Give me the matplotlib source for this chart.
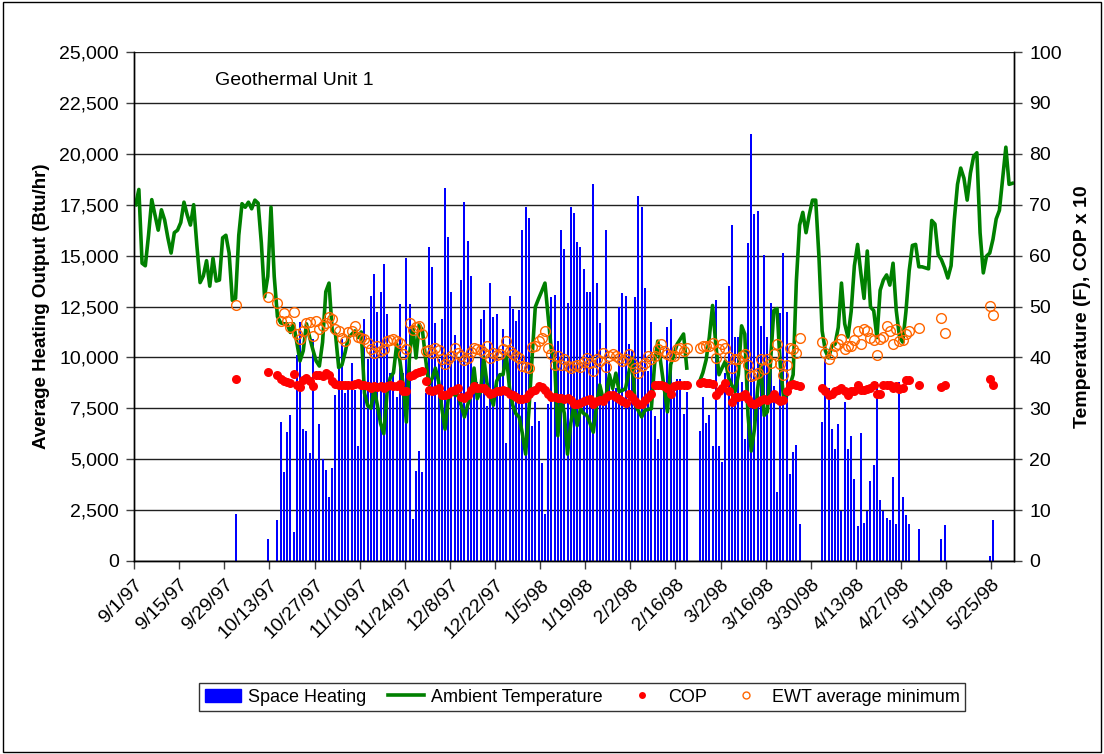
import numpy as np
import matplotlib
matplotlib.use("Agg")
import matplotlib.pyplot as plt
from matplotlib.patches import Rectangle

plt.rcParams['font.family'] = ['Liberation Sans', 'DejaVu Sans']

nan = np.nan

# one value per day, 9/1/97 .. 5/31/98 (273 days)
# Space heating, Btu/hr (nan = no data)
heating = ([nan] * 31 + [2330] + [nan] * 9 + [1080, nan, nan,
    2000, 6820, 4360, 6320, 7150, 1410, 10140, 11720, 6490, 6400,
    5320, 10890, 4990, 6735, 4990, 4460, 3160, 4570, 8150, 9980,
    10890, 8230, 8650, 9730, 8400, 5650, 8650, 11890, 9900, 13020,
    14100, 12220, 13220, 14600, 12140, 9230, 9230, 8070, 12640, 9230,
    14880, 12640, 2080, 4400, 5400, 4360, 8230, 15430, 14430, 11670,
    9900, 11890, 18330, 15920, 13200, 11090, 9900, 13800, 17630, 15720,
    14000, 8400, 8800, 11890, 12340, 7620, 13670, 11970, 12140, 9230,
    11390, 5790, 13020, 12390, 11810, 12340, 16260, 17410, 16850, 6620,
    7820, 6870, 4820, 2330, 7730, 12970, 13050, 10810, 16260, 15330,
    12670, 17410, 17100, 15670, 15430, 14350, 13220, 13220, 18540, 13640,
    11670, 8150, 16260, 9810, 8650, 8480, 12470, 13140, 13020, 10680,
    10310, 12970, 17930, 17410, 13420, 9310, 11760, 7120, 5990, 7480,
    8480, 11470, 11890, 8650, 8930, 8930, 7230, 8310, nan, nan,
    nan, 6400, 8070, 6770, 7150, 5650, 12800, 5650, 4850, 9230,
    13500, 16500, 10980, 10980, 8810, 5990, 15630, 20990, 17050, 17180,
    11560, 15020, 10980, 12670, 8600, 3380, 12170, 15130, 12220, 4290,
    5350, 5690, 1830] + [nan] * 6 + [6820, 9900, 8480, 6490, 5490,
    6740, 2460, 7820, 5520, 6120, 4040, 1700, 6290, 1880, 2460,
    3910, 4690, 8800, 2990, 2460, 2130, 2000, 4110, 1830, 8810,
    3160, 2250, 1830, nan, nan, 1580] + [nan] * 6 + [1080, 1750]
    + [nan] * 13 + [250, 2000] + [nan] * 6)

# Ambient temperature, F
ambient = [70, 73, 58.5, 58, 64, 71, 68, 65, 69, 67,
    63.5, 60.5, 64.5, 65, 66.5, 70.5, 68, 66, 70, 62,
    54.7, 56, 59, 54, 59.5, 55, 55.2, 63.5, 64, 60.5,
    51.2, 51.6, 64, 70.2, 69.5, 70.5, 69.2, 70.9, 70.3, 62.5,
    51.9, 55.9, 69.5, 55.9, 48, 46.8, 46.6, 46.6, 44.9, 46.6,
    43, 39.3, 41.3, 46.6, 43.9, 41.5, 39.3, 38.3, 43, 52.9,
    54.6, 45.2, 44.6, 38, 38.5, 41, 43.9, 44.5, 45.2, 43.9,
    45, 33, 30.5, 30, 33.9, 30.6, 27, 25, 33, 36,
    37, 42.6, 39.3, 34.6, 27.3, 40.6, 45.9, 39.9, 46.5, 45.2,
    39.5, 34.6, 35.9, 37.9, 35.3, 30, 25.9, 31.9, 33.3, 32.6,
    32.6, 30.6, 28.3, 30.6, 32.6, 37.9, 31.9, 33.3, 39.9, 35,
    32.6, 30.6, 35.3, 36.6, 36.6, 40.6, 33.9, 30.6, 28.9, 28.3,
    25, 21, 29.3, 40, 49.9, 51.5, 53, 54.6, 47.9, 41.3,
    39.3, 24.6, 31.9, 29, 21, 27, 30.6, 26.6, 29.9, 29,
    28.6, 27, 25.3, 30.6, 34.6, 31.9, 32.6, 36.6, 33.9, 36.9,
    33.3, 33.5, 33.9, 37, 39.9, 30.6, 29.5, 28.3, 29.6, 29.8,
    29.9, 38.6, 43.2, 38.6, 33.9, 29.3, 38.6, 40.5, 42.6, 43.6,
    44.6, 37.9, nan, nan, nan, 35.3, 37, 39.5, 44, 50.2,
    42.6, 36.6, 38, 39.3, 35.9, 34.5, 33.3, 36.6, 46.2, 44.6,
    28.6, 21.6, 25.9, 33.9, 38.6, 28.6, 29.3, 39.3, 49.2, 49.6,
    38.6, 32.3, 32.5, 34.5, 36.6, 55, 66, 68.5, 64.5, 68,
    70.9, 70.9, 59.9, 45.2, 41.3, 39.9, 42.2, 42.6, 45.9, 54.6,
    46.6, 44, 49, 58, 62.2, 56.6, 51.6, 60.9, 49.9, 49.2,
    43.9, 53.2, 55.2, 56.2, 54.2, 58.5, 49.2, 44, 43, 49,
    57, 62, 62.2, 57.8, 57.8, 57.6, 57.4, 66.9, 66.2, 60.2,
    59.2, 57.6, 55.6, 58, 67, 74, 77.2, 75.2, 70.9, 76.2,
    79.5, 80.2, 64.5, 56.6, 59.9, 60.5, 63.2, 67.2, 68.9, 75.2,
    81.3, 74, 74.2]

# COP
cop = ([nan] * 31 + [3.57] + [nan] * 9 + [3.71, nan, nan,
    3.66, 3.57, 3.53, 3.51, 3.49, 3.67, 3.46, 3.41, 3.56, 3.59,
    3.53, 3.43, 3.65, 3.66, 3.63, 3.69, 3.66, 3.53, 3.47, 3.46,
    3.46, 3.45, 3.46, 3.46, 3.47, 3.49, 3.46, 3.45, 3.43, 3.39,
    3.43, 3.41, 3.43, 3.39, 3.43, 3.45, 3.43, 3.43, 3.47, 3.33,
    3.33, 3.63, 3.66, 3.69, 3.72, 3.74, 3.53, 3.36, 3.33, 3.36,
    3.39, 3.26, 3.26, 3.29, 3.33, 3.36, 3.39, 3.23, 3.21, 3.27,
    3.36, 3.43, 3.39, 3.39, 3.39, 3.33, 3.29, 3.31, 3.33, 3.34,
    3.36, 3.34, 3.29, 3.26, 3.23, 3.19, 3.19, 3.21, 3.29, 3.33,
    3.36, 3.43, 3.41, 3.36, 3.29, 3.23, 3.23, 3.21, 3.21, 3.19,
    3.21, 3.16, 3.09, 3.09, 3.11, 3.14, 3.16, 3.19, 3.09, 3.14,
    3.16, 3.14, 3.23, 3.26, 3.26, 3.23, 3.19, 3.14, 3.11, 3.29,
    3.23, 3.14, 3.09, 3.09, 3.16, 3.23, 3.29, 3.46, 3.46, 3.45,
    3.43, 3.39, 3.29, 3.43, 3.45, 3.45, 3.45, 3.45, nan, nan,
    nan, 3.49, 3.51, 3.49, 3.49, 3.47, 3.26, 3.33, 3.39, 3.49,
    3.33, 3.13, 3.23, 3.23, 3.25, 3.29, 3.19, 3.11, 3.09, 3.13,
    3.16, 3.18, 3.16, 3.21, 3.29, 3.19, 3.14, 3.16, 3.33, 3.46,
    3.47, 3.45, 3.43] + [nan] * 6 + [3.39, 3.33, 3.26, 3.29, 3.33,
    3.36, 3.39, 3.33, 3.27, 3.33, 3.33, 3.45, 3.36, 3.36, 3.38,
    3.39, 3.45, 3.29, 3.29, 3.45, 3.45, 3.45, 3.39, 3.43, 3.38,
    3.39, 3.56, 3.56, nan, nan, 3.46] + [nan] * 6 + [3.41, 3.46]
    + [nan] * 13 + [3.57, 3.46] + [nan] * 6)

# EWT average minimum, F
ewt = ([nan] * 31 + [50.2] + [nan] * 9 + [51.9, nan, nan,
    50.6, 47.2, 48.7, 47.2, 45.9, 48.9, 44.6, 43.6, 45.2, 46.7,
    46.9, 44.2, 47.2, 45.6, 46.2, 46.7, 47.9, 47.6, 45.6, 45.1,
    43.9, 43.2, 44.9, 45.2, 46.2, 44.0, 43.9, 43.6, 42.9, 41.6,
    40.9, 42.2, 41.3, 41.6, 43.2, 43.4, 43.6, 43.2, 42.9, 40.6,
    41.6, 46.7, 45.4, 45.9, 46.2, 44.6, 41.3, 41.4, 40.9, 41.9,
    41.4, 39.6, 38.7, 39.6, 40.3, 41.8, 40.9, 40.3, 39.4, 39.9,
    41.0, 41.9, 41.6, 41.4, 40.9, 42.2, 39.9, 40.9, 40.5, 40.7,
    41.6, 43.2, 41.3, 40.6, 40.3, 39.9, 38.3, 38.1, 37.9, 42.0,
    42.2, 43.2, 43.9, 45.2, 41.9, 40.6, 38.6, 40.3, 38.6, 39.6,
    38.3, 37.9, 38.3, 38.5, 38.1, 39.0, 39.9, 38.9, 37.4, 39.6,
    39.3, 40.9, 38.1, 40.3, 40.6, 40.3, 39.9, 39.3, 39.6, 40.6,
    38.9, 37.9, 36.9, 38.3, 38.9, 40.3, 39.6, 40.3, 41.6, 42.6,
    41.3, 40.6, 40.3, 40.3, 41.6, 41.9, 41.3, 41.9, nan, nan,
    nan, 41.9, 42.2, 42.2, 42.2, 42.9, 39.9, 41.6, 42.6, 41.9,
    40.1, 37.9, 39.6, 39.6, 40.3, 40.6, 38.6, 36.3, 36.6, 36.9,
    39.6, 37.8, 39.6, 38.9, 40.6, 42.7, 38.7, 36.6, 38.6, 41.8,
    41.6, 40.9, 43.8] + [nan] * 6 + [43.1, 40.9, 39.6, 40.6, 42.2,
    42.6, 43.6, 41.6, 42.2, 42.2, 43.4, 45.2, 42.6, 45.6, 45.2,
    43.9, 43.4, 40.4, 43.6, 44.0, 46.2, 45.1, 42.7, 45.6, 43.2,
    43.4, 44.6, 45.2, nan, nan, 45.8] + [nan] * 6 + [47.7, 44.7]
    + [nan] * 13 + [50.1, 48.4] + [nan] * 6)

tick_days = list(range(0, 267, 14))
tick_labels = ['9/1/97', '9/15/97', '9/29/97', '10/13/97', '10/27/97',
    '11/10/97', '11/24/97', '12/8/97', '12/22/97', '1/5/98', '1/19/98',
    '2/2/98', '2/16/98', '3/2/98', '3/16/98', '3/30/98', '4/13/98',
    '4/27/98', '5/11/98', '5/25/98']

x = np.arange(len(ambient)) + 0.5

fig = plt.figure(figsize=(11.04, 7.54), dpi=100)
fig.patches.append(Rectangle((0.003, 0.003), 0.994, 0.994, transform=fig.transFigure,
                             fill=False, edgecolor='black', linewidth=1))
ax = fig.add_axes([0.1214, 0.256, 0.797, 0.675])
ax2 = ax.twinx()

ax.set_axisbelow(True)
ax.bar(x, heating, width=0.62, color='#0000ff', zorder=2)
ax.set_xlim(0, len(ambient))
ax.set_ylim(0, 25000)
ax.set_yticks(np.arange(0, 25001, 2500))
ax.set_yticklabels(['{:,}'.format(v) for v in range(0, 25001, 2500)])
ax.grid(axis='y', color='#202020', linewidth=1)
ax.set_xticks(tick_days)
ax.set_xticklabels(tick_labels, rotation=45, ha='right', va='top',
                   rotation_mode='anchor')

ax2.plot(x, ambient, color='#008000', linewidth=2.6, solid_joinstyle='round')
ax2.plot(x, np.array(cop) * 10, 'o', color='#ff0000', markersize=6.5,
         markeredgewidth=0)
ax2.plot(x, ewt, 'o', markerfacecolor='none', markeredgecolor='#ff6600',
         markersize=7, markeredgewidth=1)
ax2.set_ylim(0, 100)
ax2.set_yticks(np.arange(0, 101, 10))

for a in (ax, ax2):
    a.spines['top'].set_visible(False)
    for s in a.spines.values():
        s.set_color('black')
        s.set_linewidth(1)
    a.tick_params(labelsize=14, length=6, width=1, color='#404040',
                  direction='out', pad=5)

ax.set_ylabel('Average Heating Output (Btu/hr)', fontsize=13.5, fontweight='bold')
ax2.set_ylabel('Temperature (F), COP x 10', fontsize=14, fontweight='bold')
ax.yaxis.set_label_coords(-0.096, 0.5)
ax2.yaxis.set_label_coords(1.068, 0.5)
ax.text(0.092, 0.945, 'Geothermal Unit 1', transform=ax.transAxes, fontsize=14,
        va='center', ha='left')

handles = [Rectangle((0, 0), 1, 1, color='#0000ff'),
           plt.Line2D([], [], color='#008000', linewidth=2.6),
           plt.Line2D([], [], marker='o', linestyle='none', color='#ff0000',
                      markersize=5, markeredgewidth=0),
           plt.Line2D([], [], marker='o', linestyle='none', markerfacecolor='none',
                      markeredgecolor='#ff6600', markersize=5)]
leg = fig.legend(handles, ['Space Heating', 'Ambient Temperature', 'COP',
                           'EWT average minimum'],
                 loc='center', bbox_to_anchor=(582 / 1104, 1 - 697 / 754), ncol=4,
                 fontsize=13, frameon=True, fancybox=False, shadow=False,
                 edgecolor='black', borderpad=0.3, handlelength=2.0,
                 handletextpad=0.4, columnspacing=1.2)
leg.get_frame().set_linewidth(1)

fig.savefig('out.png', dpi=100)
